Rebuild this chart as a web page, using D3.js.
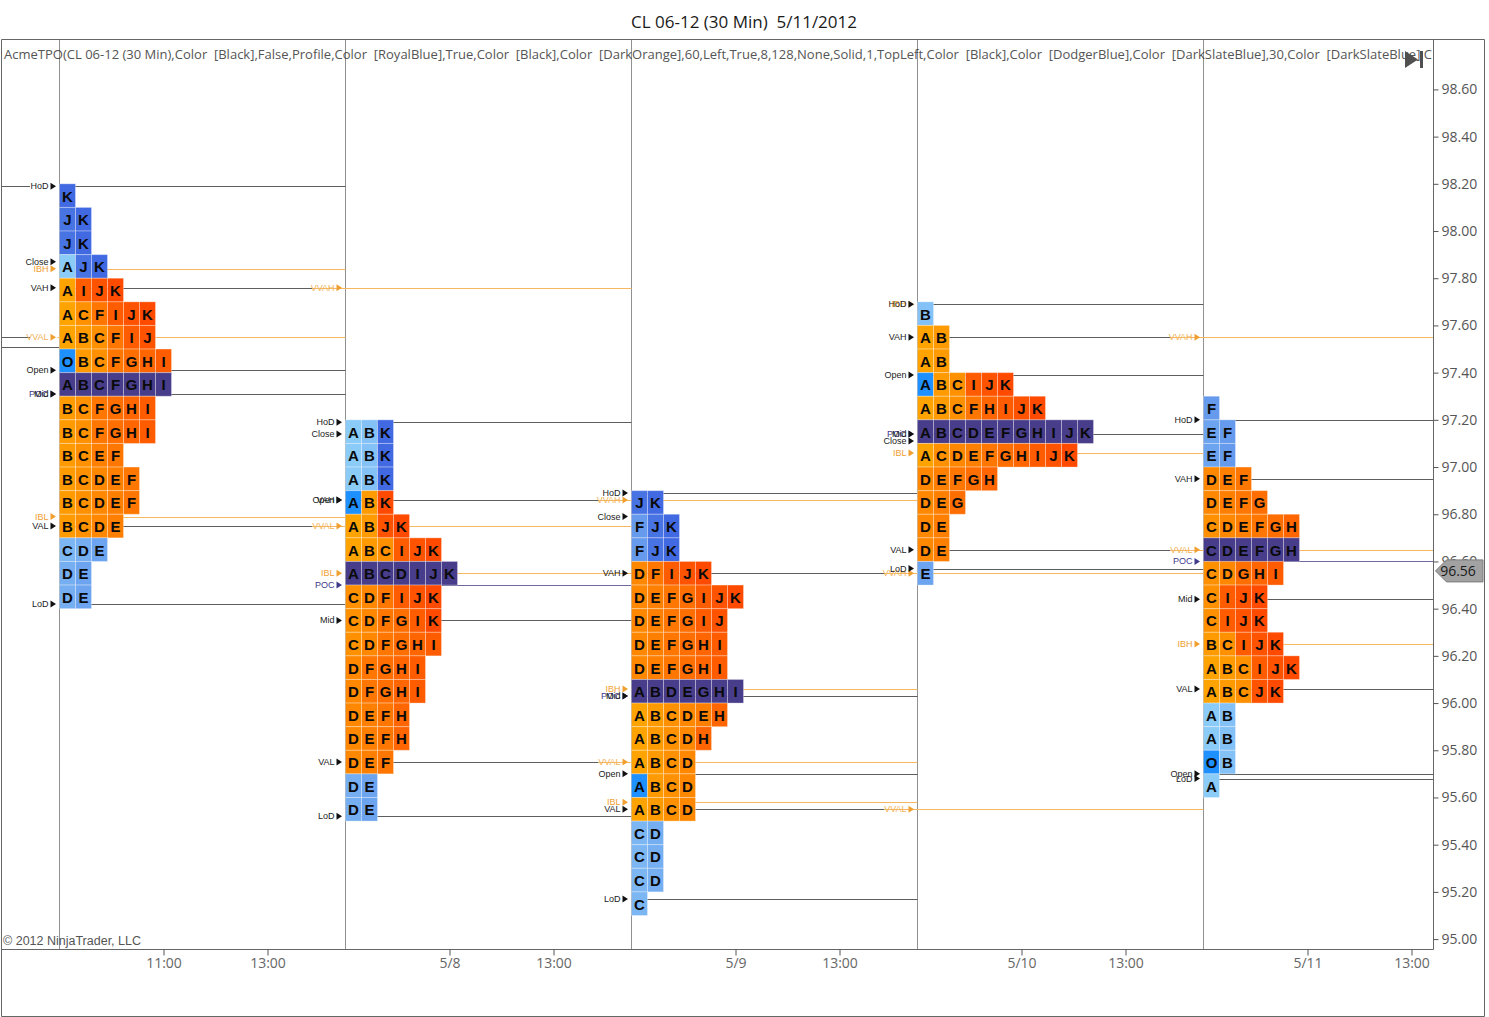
<!DOCTYPE html>
<html><head><meta charset="utf-8">
<script src="https://cdn.jsdelivr.net/npm/d3@7"></script>
<style>body{margin:0;background:#fff}svg{display:block}</style>
</head><body><svg id="c" width="1489" height="1017"></svg>
<script>
// ---------- data ----------
const chartTitle = "CL 06-12 (30 Min)  5/11/2012";
const indicatorText = "AcmeTPO(CL 06-12 (30 Min),Color  [Black],False,Profile,Color  [RoyalBlue],True,Color  [Black],Color  [DarkOrange],60,Left,True,8,128,None,Solid,1,TopLeft,Color  [Black],Color  [DodgerBlue],Color  [DarkSlateBlue],30,Color  [DarkSlateBlue],C";
const copyrightText = "\u00a9 2012 NinjaTrader, LLC";

const sessionDates = ["5/7", "5/8", "5/9", "5/10", "5/11"];
const topRowPrice = [98.15, 97.15, 96.85, 97.65, 97.25];   // centre price of each profile's top row
const day1Rows = ["K","JK","JK","AJK","AIJK","ACFIJK","ABCFIJ","OBCFGHI","ABCFGHI","BCFGHI","BCFGHI","BCEF","BCDEF","BCDEF","BCDE","CDE","DE","DE"];
const day2Rows = ["ABK","ABK","ABK","ABK","ABJK","ABCIJK","ABCDIJK","CDFIJK","CDFGIK","CDFGHI","DFGHI","DFGHI","DEFH","DEFH","DEF","DE","DE"];
const day3Rows = ["JK","FJK","FJK","DFIJK","DEFGIJK","DEFGIJ","DEFGHI","DEFGHI","ABDEGHI","ABCDEH","ABCDH","ABCD","ABCD","ABCD","CD","CD","CD","C"];
const day4Rows = ["B","AB","AB","ABCIJK","ABCFHIJK","ABCDEFGHIJK","ACDEFGHIJK","DEFGH","DEG","DE","DE","E"];
const day5Rows = ["F","EF","EF","DEF","DEFG","CDEFGH","CDEFGH","CDGHI","CIJK","CIJK","BCIJK","ABCIJK","ABCJK","AB","AB","OB","A"];
const profileRows = [day1Rows, day2Rows, day3Rows, day4Rows, day5Rows];
const openRowPrice = [97.45, 96.85, 95.65, 97.35, 95.75];
const pocRowPrice  = [97.35, 96.55, 96.05, 97.15, 96.65];
const vaTopRow     = [97.75, 96.85, 96.55, 97.55, 96.95];
const vaBottomRow  = [96.75, 95.75, 95.55, 96.65, 96.05];

const day1Levels = [["HoD",98.19],["Close",97.87],["IBH",97.84],["VAH",97.76],["Open",97.41],["POC",97.31],["Mid",97.31],["IBL",96.79],["VAL",96.75],["LoD",96.42]];
const day2Levels = [["HoD",97.19],["Close",97.14],["Open",96.86],["VAH",96.86],["IBL",96.55],["POC",96.50],["Mid",96.35],["VAL",95.75],["LoD",95.52]];
const day3Levels = [["HoD",96.89],["Close",96.79],["VAH",96.55],["IBH",96.06],["POC",96.03],["Mid",96.03],["Open",95.70],["IBL",95.58],["VAL",95.55],["LoD",95.17]];
const day4Levels = [["IBH",97.69],["HoD",97.69],["VAH",97.55],["Open",97.39],["POC",97.14],["Mid",97.14],["Close",97.11],["IBL",97.06],["VAL",96.65],["LoD",96.57]];
const day5Levels = [["HoD",97.20],["VAH",96.95],["POC",96.60],["Mid",96.44],["IBH",96.25],["VAL",96.06],["Open",95.70],["LoD",95.68]];
const dayLevels = [day1Levels, day2Levels, day3Levels, day4Levels, day5Levels];

const priorDayVAL = 97.55;
const priorDayLines = [98.19, 97.55, 97.51];
const lastPrice = 96.56;

const priceTicks = d3.range(0, 19).map(i => +(95 + i * 0.2).toFixed(2));
const timeTickLabels = ["11:00","13:00","5/8","13:00","5/9","13:00","5/10","13:00","5/11","13:00"];
const timeTickDay  = [0,0,1,1,2,2,3,3,4,4];
const timeTickHour = [11,13,11,13,11,13,11,13,11,13];

// ---------- layout ----------
const svg = d3.select("#c");
const W = 1489, H = 1017;
const plotL = 1, plotT = 39.5, plotR = 1433.5, plotB = 949.5;
const slotsPerDay = 11;                      // half-hour periods A..K, 9:00 - 14:30
const x = d3.scaleLinear().domain([0, 55]).range([59.5, 1489.5]);
const y = d3.scaleLinear().domain([94.958, 98.8136]).range([949, 39]);
const sepX = i => i < 5 ? x(i * slotsPerDay) : plotR;
const cellW = 16;
const letters = "ABCDEFGHIJK";
const font = "'Open Sans', 'Noto Sans', sans-serif";
const orangeI = d3.interpolateRgb("#FFA300", "#FF4A00");
const blueI = d3.interpolateRgb("#8BCBF8", "#4169E1");
const k = p => Math.round(p * 100);

svg.append("rect").attr("width", W).attr("height", H).attr("fill", "#fff");
svg.append("defs").append("clipPath").attr("id", "plot")
  .append("rect").attr("x", plotL).attr("y", plotT).attr("width", plotR - plotL).attr("height", plotB - plotT);

// title
svg.append("text").attr("x", 744).attr("y", 21).attr("text-anchor", "middle")
  .attr("dominant-baseline", "central").attr("font-family", font).attr("font-size", 17)
  .attr("fill", "#1a1a1a").style("white-space", "pre").text(chartTitle);

const plot = svg.append("g").attr("clip-path", "url(#plot)");

// header indicator text
plot.append("text").attr("x", 4).attr("y", 54).attr("dominant-baseline", "central")
  .attr("font-family", font).attr("font-size", 13).attr("fill", "#555")
  .attr("textLength", 1428).attr("lengthAdjust", "spacingAndGlyphs")
  .style("white-space", "pre").text(indicatorText);

// session separators
for (let i = 0; i < 5; i++) {
  plot.append("line").attr("x1", sepX(i)).attr("x2", sepX(i)).attr("y1", plotT).attr("y2", plotB)
    .attr("stroke", "#222").attr("stroke-width", 1).attr("stroke-dasharray", "1,1");
}

const lineG = plot.append("g");
const labelG = plot.append("g");

function levelStyle(name) {
  if (name === "IBH" || name === "IBL") return { text: "#F0A030", line: "#F5B860", tri: "#F0A030" };
  if (name === "POC") return { text: "#3E3A8C", line: "#6E6A9E", tri: "#3E3A8C" };
  return { text: "#222", line: "#5E5E5E", tri: "#111" };
}
function drawLabel(name, xr, py, color, triColor) {
  const yy = y(py);
  labelG.append("text").attr("x", xr - 11).attr("y", yy).attr("text-anchor", "end")
    .attr("dominant-baseline", "central").attr("font-family", "'Liberation Sans', Arial, sans-serif")
    .attr("font-size", 9).attr("fill", color).text(name);
  labelG.append("path").attr("d", `M${xr - 9},${yy - 3.5}L${xr - 3.5},${yy}L${xr - 9},${yy + 3.5}Z`).attr("fill", triColor);
}

// prior-day stubs
priorDayLines.forEach(p => {
  lineG.append("line").attr("x1", plotL).attr("x2", p === 97.51 ? sepX(0) : 30)
    .attr("y1", Math.round(y(p)) + 0.5).attr("y2", Math.round(y(p)) + 0.5).attr("stroke", "#5E5E5E");
});
// prior-day virgin VAL through day 1
lineG.append("line").attr("x1", sepX(0) - 2).attr("x2", sepX(1)).attr("y1", Math.round(y(priorDayVAL)) + 0.5)
  .attr("y2", Math.round(y(priorDayVAL)) + 0.5).attr("stroke", "#F5B860");
drawLabel("VVAL", sepX(0), priorDayVAL, "#F2B35A", "#F0A030");

// level lines per session
dayLevels.forEach((levels, i) => {
  const x0 = sepX(i), x1 = sepX(i + 1);
  levels.forEach(([name, p]) => {
    const st = levelStyle(name);
    const yy = Math.round(y(p)) + 0.5;
    if (name !== "Close") {
      let xe = x1;
      if ((name === "VAH" || name === "VAL") && i < 4) xe = x1 - 33;
      lineG.append("line").attr("x1", x0).attr("x2", xe).attr("y1", yy).attr("y2", yy)
        .attr("stroke", st.line).attr("stroke-width", 1);
    }
    drawLabel(name, x0, p, st.text, st.tri);
    // untouched value-area edges carried into the next session
    if ((name === "VAH" || name === "VAL") && i < 4) {
      lineG.append("line").attr("x1", x1 - 33).attr("x2", sepX(i + 2)).attr("y1", yy).attr("y2", yy)
        .attr("stroke", "#F5B860").attr("stroke-width", 1);
      drawLabel("V" + name, x1, p, "#F2B35A", "#F0A030");
    }
  });
});

// TPO cells
const cellG = plot.append("g");
profileRows.forEach((rows, i) => {
  const x0 = sepX(i);
  rows.forEach((row, r) => {
    const center = topRowPrice[i] - r * 0.1;
    const c = k(center);
    const inVA = c <= k(vaTopRow[i]) && c >= k(vaBottomRow[i]);
    const isPoc = c === k(pocRowPrice[i]);
    const isOpen = c === k(openRowPrice[i]);
    const yTop = y(center + 0.05), yBot = y(center - 0.05);
    row.split("").forEach((ch, j) => {
      const idx = letters.indexOf(ch);
      let fill;
      if (isPoc) fill = "#483D8B";
      else if (isOpen && j === 0) fill = "#1E90FF";
      else fill = inVA ? orangeI(Math.max(idx, 0) / 10) : blueI(Math.max(idx, 0) / 10);
      const cx = x0 + j * cellW;
      cellG.append("rect").attr("x", cx).attr("y", yTop).attr("width", cellW).attr("height", yBot - yTop)
        .attr("fill", fill).attr("stroke", "rgba(255,255,255,0.3)").attr("stroke-width", 1);
      cellG.append("text").attr("x", cx + cellW / 2).attr("y", (yTop + yBot) / 2 + 0.5)
        .attr("text-anchor", "middle").attr("dominant-baseline", "central")
        .attr("font-family", "'Liberation Sans', Arial, sans-serif").attr("font-weight", "bold")
        .attr("font-size", 15).attr("fill", "#0a0a0a").text(ch);
    });
  });
});

// copyright
plot.append("text").attr("x", 3).attr("y", 941).attr("dominant-baseline", "central")
  .attr("font-family", "'Liberation Sans', Arial, sans-serif").attr("font-size", 12.5).attr("fill", "#555").text(copyrightText);

// play-to-end icon
svg.append("path").attr("d", "M1405,51L1418,59.5L1405,68Z").attr("fill", "#505050");
svg.append("rect").attr("x", 1420).attr("y", 51).attr("width", 3).attr("height", 17).attr("fill", "#505050");

// frame
const frame = svg.append("g").attr("stroke", "#666").attr("stroke-width", 1).attr("fill", "none");
frame.append("path").attr("d", `M1.5,39.5H1484.5V1016.5H1.5Z`);
frame.append("line").attr("x1", 1).attr("x2", plotR).attr("y1", plotB).attr("y2", plotB);
frame.append("line").attr("x1", plotR).attr("x2", plotR).attr("y1", plotT).attr("y2", plotB);

// right price axis
const yAxis = d3.axisRight(y).tickValues(priceTicks).tickSize(5).tickPadding(3).tickFormat(d3.format(".2f"));
const gy = svg.append("g").attr("transform", `translate(${plotR},0)`).call(yAxis);
gy.select(".domain").remove();
gy.selectAll("line").attr("stroke", "#555");
gy.selectAll("text").attr("font-family", font).attr("font-size", 14).attr("fill", "#555");

// bottom time axis
const slotOf = (d, h) => d * slotsPerDay + (h - 9) * 2;
const xTicks = timeTickDay.map((d, i) => slotOf(d, timeTickHour[i]));
const xAxis = d3.axisBottom(x).tickValues(xTicks).tickSize(6).tickPadding(3)
  .tickFormat((d, i) => timeTickLabels[i]);
const gx = svg.append("g").attr("transform", `translate(0,${plotB})`).call(xAxis);
gx.select(".domain").remove();
gx.selectAll("line").attr("stroke", "#555");
gx.selectAll("text").attr("font-family", font).attr("font-size", 14).attr("fill", "#666");

// last price marker
const ly = y(lastPrice);
svg.append("path").attr("d", `M${plotR + 2},${ly}L${plotR + 13},${ly - 11}H1483V${ly + 11}H${plotR + 13}Z`)
  .attr("fill", "#A2A2A2").attr("stroke", "#7a7a7a");
svg.append("text").attr("x", 1458).attr("y", ly).attr("text-anchor", "middle").attr("dominant-baseline", "central")
  .attr("font-family", font).attr("font-size", 14).attr("fill", "#1a1a1a").text(d3.format(".2f")(lastPrice));
</script>
</body></html>
